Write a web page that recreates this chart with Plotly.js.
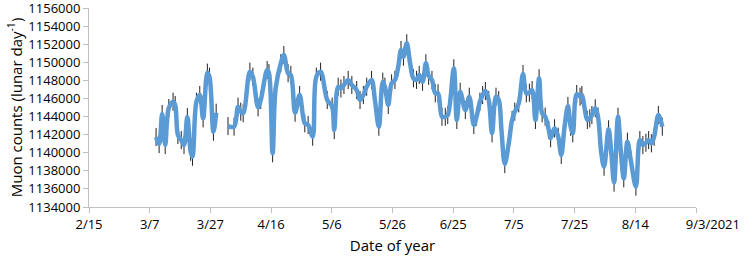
<!DOCTYPE html>
<html>
<head>
<meta charset="utf-8">
<script src="https://cdn.plot.ly/plotly-3.0.1.min.js"></script>
<style>html,body{margin:0;padding:0;background:#fff;}#chart{width:744px;height:261px;}</style>
</head>
<body>
<div id="chart"></div>
<script>
// Day of year (2021) of each reading; null marks the gap in the record
const dayOfYear = [
  68.1, 69.1, 70.1, 71.1, 72.3, 73.7, 74.4, 75.3, 76.4, 77.3, 78.4, 79.5, 80.1, 81.4, 82.5, 83.6, 85.0, 85.7, 87.0, 87.9,
  89.8,
  91.8, 93.8, 95.1, 96.0, 96.8, 99.0, 100.0, 101.7, 102.6, 104.7, 105.3, 106.5, 107.5, 109.2, 110.2, 111.6, 112.5, 113.9,
  115.4, 117.1, 118.2, 119.7, 120.9, 122.3, 124.5, 126.1, 126.8, 128.1, 129.0, 130.0, 131.4, 132.6, 134.2, 135.3, 136.4,
  137.5, 139.1, 140.2, 141.5, 142.8, 143.5, 144.6, 145.7, 146.8, 147.9, 148.8, 149.6, 150.7, 151.8, 152.9, 153.9, 154.8,
  155.9, 157.0, 157.9, 159.0, 160.1, 161.0, 162.3, 163.4, 164.2, 166.2, 167.2, 168.3, 170.0, 171.3, 172.8, 173.7, 174.8,
  175.7, 176.6, 177.7, 178.8, 180.1, 181.0, 181.9, 183.0, 184.3, 185.4, 186.3, 187.6, 189.0, 190.1, 191.1, 192.0, 193.1,
  194.3, 195.3, 196.3, 197.5, 198.1, 199.4, 200.6, 201.6, 202.7, 203.8, 204.7, 205.4, 206.7, 207.8, 208.4, 209.3, 210.2,
  211.0, 211.7, 212.8, 213.7, 214.8, 215.7, 217.2, 218.1, 219.0, 220.3, 221.2, 222.2, 223.4, 224.5, 226.2, 227.5, 228.5,
  229.5, 230.4, 231.3, 232.2, 233.6, 234.9
];
const muonCounts = [
  1141740, 1140960, 1144280, 1140850, 1144940, 1145640, 1145280, 1141960, 1141400, 1140850, 1143950, 1140110, 1139560,
  1145640, 1146380, 1143800, 1148850, 1148400, 1142320, 1144420,
  null,
  1142950, 1142880, 1145090, 1144540, 1144360, 1148960, 1148400, 1145020, 1145830, 1149140, 1148800, 1139940, 1147120,
  1149890, 1150800, 1148780, 1148600, 1144420, 1146380, 1143250, 1143070, 1141770, 1148400, 1148960, 1145830, 1145100,
  1142510, 1147300, 1147100, 1147490, 1148040, 1147490, 1146930, 1145830, 1146380, 1147300, 1148040, 1145830, 1142880,
  1147850, 1147300, 1145280, 1147670, 1148040, 1149510, 1151360, 1150620, 1152100, 1149890, 1148230, 1148050, 1148600,
  1147850, 1149890, 1148500, 1148040, 1146570, 1146570, 1143980, 1143980, 1144160, 1149330, 1143620, 1146750, 1144720,
  1146190, 1143070, 1143990, 1145640, 1146380, 1146820, 1145830, 1142150, 1146190, 1145830, 1142510, 1138750, 1141040,
  1143620, 1144540, 1145460, 1148700, 1146570, 1146630, 1146930, 1143620, 1148230, 1144360, 1143990, 1142510, 1141600,
  1142700, 1141770, 1139750, 1142880, 1145170, 1142880, 1142150, 1146490, 1146190, 1146380, 1144910, 1143620, 1143800,
  1144170, 1144910, 1143990, 1139940, 1138460, 1142590, 1139940, 1136690, 1143980, 1140300, 1137170, 1141220, 1139200,
  1136250, 1141400, 1140850, 1141100, 1141400, 1141040, 1141770, 1144170, 1142880
];
const countError = 1000;
const xTickDays = [46, 66, 86, 106, 126, 146, 166, 186, 206, 226, 246];
const xTickLabels = ['2/15', '3/7', '3/27', '4/16', '5/6', '5/26', '6/25', '7/5', '7/25', '8/14',
  '\u00A0\u00A0\u00A0\u00A0\u00A0\u00A0\u00A0\u00A0\u00A0\u00A09/3/2021'];
const yTicks = [1134000, 1136000, 1138000, 1140000, 1142000, 1144000, 1146000, 1148000, 1150000, 1152000, 1154000, 1156000];

const font = '"Open Sans", Lato, sans-serif';
const trace = {
  x: dayOfYear,
  y: muonCounts,
  type: 'scatter',
  mode: 'lines',
  connectgaps: false,
  line: {color: '#5B9BD5', width: 4.5, shape: 'spline', smoothing: 1},
  error_y: {type: 'constant', value: countError, visible: true, color: '#222222', thickness: 1, width: 0},
  hoverinfo: 'x+y'
};
const layout = {
  width: 744, height: 261,
  margin: {l: 89, r: 48, t: 8, b: 54},
  paper_bgcolor: '#ffffff', plot_bgcolor: '#ffffff',
  showlegend: false,
  font: {family: font, size: 13, color: '#000000'},
  xaxis: {
    range: [46, 246],
    tickmode: 'array', tickvals: xTickDays, ticktext: xTickLabels,
    ticklabeloverflow: 'allow',
    showgrid: false, zeroline: false,
    showline: true, linecolor: '#bfbfbf', linewidth: 1,
    ticks: 'outside', ticklen: 5, tickcolor: '#bfbfbf',
    tickfont: {family: font, size: 13, color: '#000'},
    title: {text: 'Date of year', font: {family: font, size: 15, color: '#000'}, standoff: 8}
  },
  yaxis: {
    range: [1134000, 1156000],
    tickmode: 'array', tickvals: yTicks, ticktext: yTicks.map(String),
    ticklabeloverflow: 'allow',
    showgrid: false, zeroline: false,
    showline: true, linecolor: '#bfbfbf', linewidth: 1,
    ticks: 'outside', ticklen: 5, tickcolor: '#bfbfbf',
    tickfont: {family: font, size: 13, color: '#000'},
    title: {text: 'Muon counts (lunar day<sup>-1</sup>)', font: {family: font, size: 15, color: '#000'}, standoff: 2}
  }
};
Plotly.newPlot('chart', [trace], layout, {staticPlot: true, displayModeBar: false});
</script>
</body>
</html>
